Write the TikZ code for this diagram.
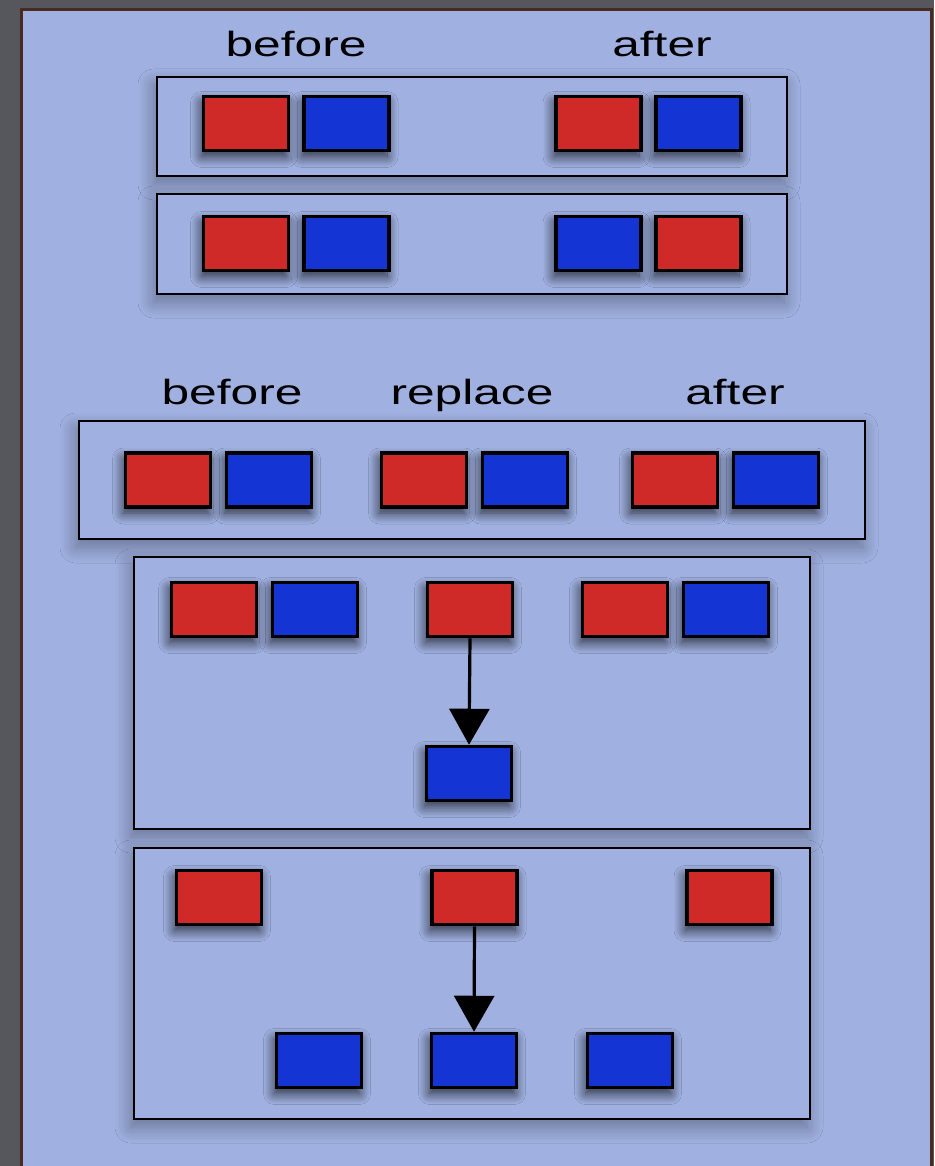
\documentclass[tikz,border=0pt]{standalone}
\usepackage{fontspec}
\setmainfont{Liberation Sans}
\usetikzlibrary{arrows.meta,shadows.blur}
\definecolor{bgdark}{HTML}{55575C}
\definecolor{panel}{HTML}{A0B1E1}
\definecolor{panelrim}{HTML}{4A2A1F}
\definecolor{sqred}{HTML}{CF2A27}
\definecolor{sqblue}{HTML}{1434D3}
\tikzset{
  sq/.style={draw=black, line width=3.5pt, minimum width=85pt, minimum height=54pt, inner sep=0pt,
    blur shadow={shadow xshift=-2pt, shadow yshift=-6pt, shadow blur radius=11pt,
      shadow blur steps=12, shadow opacity=75}},
  rsq/.style={sq, fill=sqred},
  bsq/.style={sq, fill=sqblue},
  frame/.style={draw=black, line width=2.8pt, fill=panel, inner sep=0pt,
    blur shadow={shadow xshift=-3pt, shadow yshift=-8pt, shadow blur radius=16pt,
      shadow blur steps=12, shadow opacity=35}},
  lbl/.style={font=\fontsize{35}{40}\selectfont, inner sep=0pt, anchor=base},
  arr/.style={line width=3.2pt, -{Triangle[width=40pt,length=36pt]}}
}
\newcommand{\wide}[1]{\scalebox{1.42}[1]{#1}}
\begin{document}
\begin{tikzpicture}[x=1pt,y=-1pt]
\useasboundingbox (0,0) rectangle (934,1166);
\fill[bgdark] (0,0) rectangle (934,1166);
\draw[panelrim, line width=3pt, fill=panel] (21.5,9.5) rectangle (931.5,1175);
% labels
\node[lbl] (l1) at (296,57) {\wide{before}};
\node[lbl] (l2) at (662,57) {\wide{after}};
\node[lbl] (l3) at (232,404) {\wide{before}};
\node[lbl] (l4) at (472,404) {\wide{replace}};
\node[lbl] (l5) at (735,404) {\wide{after}};
% frames
\node[frame, minimum width=630pt, minimum height=99pt] (f1) at (472,126.5) {};
\node[frame, minimum width=630pt, minimum height=100pt] (f2) at (472,244) {};
\node[frame, minimum width=786pt, minimum height=118pt] (f3) at (472,480) {};
\node[frame, minimum width=676pt, minimum height=272pt] (f4) at (472,693) {};
\node[frame, minimum width=676pt, minimum height=271pt] (f5) at (472,983.5) {};
% row 1
\node[rsq] (a1) at (246,123.5) {};
\node[bsq] (a2) at (346.5,123.5) {};
\node[rsq] (a3) at (598.5,123.5) {};
\node[bsq] (a4) at (698.5,123.5) {};
% row 2
\node[rsq] (b1) at (246,243.5) {};
\node[bsq] (b2) at (346.5,243.5) {};
\node[bsq] (b3) at (598.5,243.5) {};
\node[rsq] (b4) at (698.5,243.5) {};
% row 3
\node[rsq] (c1) at (168,480) {};
\node[bsq] (c2) at (269,480) {};
\node[rsq] (c3) at (424,480) {};
\node[bsq] (c4) at (525,480) {};
\node[rsq] (c5) at (675,480) {};
\node[bsq] (c6) at (776,480) {};
% frame 4
\node[rsq] (d1) at (214,609.5) {};
\node[bsq] (d2) at (315,609.5) {};
\node[rsq] (d3) at (470,609.5) {};
\node[rsq] (d4) at (625,609.5) {};
\node[bsq] (d5) at (726,609.5) {};
\node[bsq] (d6) at (469,773.5) {};
\draw[arr] (d3.south) -- (d6.north);
% frame 5
\node[rsq] (e1) at (219,897.5) {};
\node[rsq] (e2) at (474.5,897.5) {};
\node[rsq] (e3) at (729.5,897.5) {};
\node[bsq] (e4) at (319,1060.5) {};
\node[bsq] (e5) at (474,1060.5) {};
\node[bsq] (e6) at (630,1060.5) {};
\draw[arr] (e2.south) -- (e5.north);
\end{tikzpicture}
\end{document}
